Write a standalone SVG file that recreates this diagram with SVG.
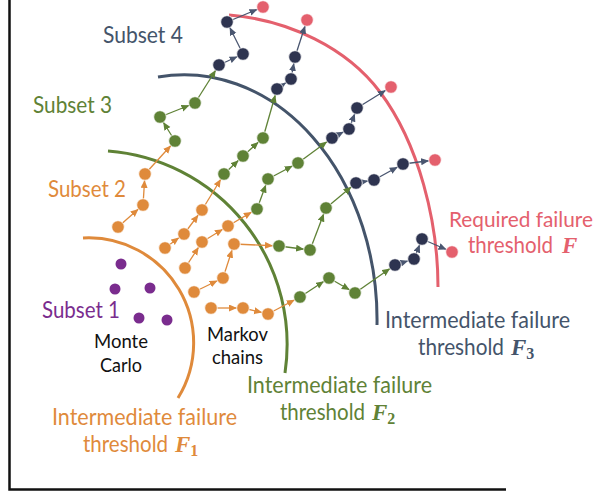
<svg xmlns="http://www.w3.org/2000/svg" width="598" height="492" viewBox="0 0 598 492">
<style>
.axis{stroke:#111;stroke-width:2.5;fill:none}
.arc{fill:none;stroke-width:3}
.lbl{font-family:Lato,"Liberation Sans",sans-serif;font-size:22.5px}
.sm{font-family:Lato,"Liberation Sans",sans-serif;font-size:19.5px;fill:#111;text-anchor:middle}
.mf{font-family:"Liberation Serif","DejaVu Serif",serif;font-weight:bold;font-style:italic;font-size:23px}
.sub{font-family:"Liberation Serif","DejaVu Serif",serif;font-weight:bold;font-size:16px}
.co{stroke:#DF8A3B;stroke-width:1.3;marker-end:url(#ao)}
.cg{stroke:#5F8236;stroke-width:1.3;marker-end:url(#ag)}
.cn{stroke:#4A5670;stroke-width:1.3;marker-end:url(#an)}
.o{fill:#DF8A3B;stroke:#fff;stroke-width:0.8}
.g{fill:#5F8236;stroke:#fff;stroke-width:0.8}
.n{fill:#2E3450;stroke:#fff;stroke-width:0.8}
.r{fill:#E4606D;stroke:#fff;stroke-width:0.8}
.p{fill:#7A2C8E}
</style>
<defs>
<marker id="ao" markerUnits="userSpaceOnUse" markerWidth="10" markerHeight="8" refX="14" refY="3.5" orient="auto"><path d="M0,0 L8,3.5 L0,7 Z" fill="#DF8A3B"/></marker>
<marker id="ag" markerUnits="userSpaceOnUse" markerWidth="10" markerHeight="8" refX="14" refY="3.5" orient="auto"><path d="M0,0 L8,3.5 L0,7 Z" fill="#5F8236"/></marker>
<marker id="an" markerUnits="userSpaceOnUse" markerWidth="10" markerHeight="8" refX="14" refY="3.5" orient="auto"><path d="M0,0 L8,3.5 L0,7 Z" fill="#4A5670"/></marker>
</defs>
<rect width="598" height="492" fill="#fff"/>
<g id="axes">
<path class="axis" d="M9.5,0 V489.5 H506"/>
</g>
<g id="thresholds">
<path id="arcF1" class="arc" stroke="#DF8A3B" d="M83,238 A105,105 0 0 1 178,398"/>
<path id="arcF2" class="arc" stroke="#5F8236" d="M108,151 A194,194 0 0 1 285,373"/>
<path id="arcF3" class="arc" stroke="#44546A" d="M158,77 A193,245 0 0 1 377,325"/>
<path id="arcF" class="arc" stroke="#E4606D" d="M229,15 C289,20 347,48 380,92 C419,144 438,222 438,287"/>
</g>
<g id="connectors">
<line class="co" x1="118" y1="227" x2="143" y2="205"/>
<line class="co" x1="143" y1="205" x2="145" y2="174"/>
<line class="co" x1="145" y1="174" x2="175" y2="141"/>
<line class="cg" x1="175" y1="141" x2="160" y2="117"/>
<line class="cg" x1="160" y1="117" x2="195" y2="103"/>
<line class="cg" x1="195" y1="103" x2="219" y2="65"/>
<line class="cn" x1="219" y1="65" x2="243" y2="54"/>
<line class="cn" x1="243" y1="54" x2="227" y2="22"/>
<line class="cn" x1="227" y1="22" x2="263" y2="7"/>

<line class="co" x1="165" y1="248" x2="184" y2="234"/>
<line class="co" x1="184" y1="234" x2="202" y2="210"/>
<line class="co" x1="202" y1="210" x2="224" y2="174"/>
<line class="cg" x1="224" y1="174" x2="243" y2="156"/>
<line class="cg" x1="243" y1="156" x2="263" y2="138"/>
<line class="cg" x1="263" y1="138" x2="277" y2="89"/>
<line class="cn" x1="277" y1="89" x2="291" y2="79"/>
<line class="cn" x1="291" y1="79" x2="295" y2="57"/>
<line class="cn" x1="295" y1="57" x2="307" y2="20"/>

<line class="co" x1="185" y1="268" x2="202" y2="242"/>
<line class="co" x1="202" y1="242" x2="228" y2="226"/>
<line class="co" x1="228" y1="226" x2="257" y2="209"/>
<line class="cg" x1="257" y1="209" x2="268" y2="179"/>
<line class="cg" x1="268" y1="179" x2="298" y2="163"/>
<line class="cg" x1="298" y1="163" x2="332" y2="138"/>
<line class="cn" x1="332" y1="138" x2="349" y2="129"/>
<line class="cn" x1="349" y1="129" x2="357" y2="108"/>
<line class="cn" x1="357" y1="108" x2="391" y2="87"/>

<line class="co" x1="194" y1="292" x2="223" y2="278"/>
<line class="co" x1="223" y1="278" x2="234" y2="244"/>
<line class="co" x1="234" y1="244" x2="279" y2="246"/>
<line class="cg" x1="279" y1="246" x2="310" y2="250"/>
<line class="cg" x1="310" y1="250" x2="326" y2="208"/>
<line class="cg" x1="326" y1="208" x2="356" y2="183"/>
<line class="cn" x1="356" y1="183" x2="374" y2="180"/>
<line class="cn" x1="374" y1="180" x2="403" y2="164"/>
<line class="cn" x1="403" y1="164" x2="435" y2="160"/>

<line class="co" x1="211" y1="308" x2="243" y2="308"/>
<line class="co" x1="243" y1="308" x2="268" y2="314"/>
<line class="co" x1="268" y1="314" x2="300" y2="297"/>
<line class="cg" x1="300" y1="297" x2="329" y2="278"/>
<line class="cg" x1="329" y1="278" x2="355" y2="293"/>
<line class="cg" x1="355" y1="293" x2="395" y2="265"/>
<line class="cn" x1="395" y1="265" x2="414" y2="259"/>
<line class="cn" x1="414" y1="259" x2="422" y2="239"/>
<line class="cn" x1="422" y1="239" x2="452" y2="252"/>
</g>
<g id="nodes">
<g id="mc1"><circle class="p" cx="121" cy="264" r="5.5"/></g>
<g id="mc2"><circle class="p" cx="115" cy="289" r="5.5"/></g>
<g id="mc3"><circle class="p" cx="150" cy="288" r="5.5"/></g>
<g id="mc4"><circle class="p" cx="139" cy="318" r="5.5"/></g>
<g id="mc5"><circle class="p" cx="167" cy="320" r="5.5"/></g>

<g id="c1o1"><circle class="o" cx="118" cy="227" r="6.3"/></g>
<g id="c1o2"><circle class="o" cx="143" cy="205" r="6.3"/></g>
<g id="c1o3"><circle class="o" cx="145" cy="174" r="6.3"/></g>
<g id="c1g1"><circle class="g" cx="175" cy="141" r="6.3"/></g>
<g id="c1g2"><circle class="g" cx="160" cy="117" r="6.3"/></g>
<g id="c1g3"><circle class="g" cx="195" cy="103" r="6.3"/></g>
<g id="c1n1"><circle class="n" cx="219" cy="65" r="6.3"/></g>
<g id="c1n2"><circle class="n" cx="243" cy="54" r="6.3"/></g>
<g id="c1n3"><circle class="n" cx="227" cy="22" r="6.3"/></g>
<g id="c1r"><circle class="r" cx="263" cy="7" r="6.3"/></g>

<g id="c2o1"><circle class="o" cx="165" cy="248" r="6.3"/></g>
<g id="c2o2"><circle class="o" cx="184" cy="234" r="6.3"/></g>
<g id="c2o3"><circle class="o" cx="202" cy="210" r="6.3"/></g>
<g id="c2g1"><circle class="g" cx="224" cy="174" r="6.3"/></g>
<g id="c2g2"><circle class="g" cx="243" cy="156" r="6.3"/></g>
<g id="c2g3"><circle class="g" cx="263" cy="138" r="6.3"/></g>
<g id="c2n1"><circle class="n" cx="277" cy="89" r="6.3"/></g>
<g id="c2n2"><circle class="n" cx="291" cy="79" r="6.3"/></g>
<g id="c2n3"><circle class="n" cx="295" cy="57" r="6.3"/></g>
<g id="c2r"><circle class="r" cx="307" cy="20" r="6.3"/></g>

<g id="c3o1"><circle class="o" cx="185" cy="268" r="6.3"/></g>
<g id="c3o2"><circle class="o" cx="202" cy="242" r="6.3"/></g>
<g id="c3o3"><circle class="o" cx="228" cy="226" r="6.3"/></g>
<g id="c3g1"><circle class="g" cx="257" cy="209" r="6.3"/></g>
<g id="c3g2"><circle class="g" cx="268" cy="179" r="6.3"/></g>
<g id="c3g3"><circle class="g" cx="298" cy="163" r="6.3"/></g>
<g id="c3n1"><circle class="n" cx="332" cy="138" r="6.3"/></g>
<g id="c3n2"><circle class="n" cx="349" cy="129" r="6.3"/></g>
<g id="c3n3"><circle class="n" cx="357" cy="108" r="6.3"/></g>
<g id="c3r"><circle class="r" cx="391" cy="87" r="6.3"/></g>

<g id="c4o1"><circle class="o" cx="194" cy="292" r="6.3"/></g>
<g id="c4o2"><circle class="o" cx="223" cy="278" r="6.3"/></g>
<g id="c4o3"><circle class="o" cx="234" cy="244" r="6.3"/></g>
<g id="c4g1"><circle class="g" cx="279" cy="246" r="6.3"/></g>
<g id="c4g2"><circle class="g" cx="310" cy="250" r="6.3"/></g>
<g id="c4g3"><circle class="g" cx="326" cy="208" r="6.3"/></g>
<g id="c4n1"><circle class="n" cx="356" cy="183" r="6.3"/></g>
<g id="c4n2"><circle class="n" cx="374" cy="180" r="6.3"/></g>
<g id="c4n3"><circle class="n" cx="403" cy="164" r="6.3"/></g>
<g id="c4r"><circle class="r" cx="435" cy="160" r="6.3"/></g>

<g id="c5o1"><circle class="o" cx="211" cy="308" r="6.3"/></g>
<g id="c5o2"><circle class="o" cx="243" cy="308" r="6.3"/></g>
<g id="c5o3"><circle class="o" cx="268" cy="314" r="6.3"/></g>
<g id="c5g1"><circle class="g" cx="300" cy="297" r="6.3"/></g>
<g id="c5g2"><circle class="g" cx="329" cy="278" r="6.3"/></g>
<g id="c5g3"><circle class="g" cx="355" cy="293" r="6.3"/></g>
<g id="c5n1"><circle class="n" cx="395" cy="265" r="6.3"/></g>
<g id="c5n2"><circle class="n" cx="414" cy="259" r="6.3"/></g>
<g id="c5n3"><circle class="n" cx="422" cy="239" r="6.3"/></g>
<g id="c5r"><circle class="r" cx="452" cy="252" r="6.3"/></g>
</g>
<g id="labels">
<text class="lbl" x="103" y="43" fill="#44546A" textLength="80" lengthAdjust="spacingAndGlyphs">Subset 4</text>
<text class="lbl" x="33" y="113" fill="#5F8236" textLength="79" lengthAdjust="spacingAndGlyphs">Subset 3</text>
<text class="lbl" x="48" y="197" fill="#DF8A3B" textLength="78" lengthAdjust="spacingAndGlyphs">Subset 2</text>
<text class="lbl" x="42" y="318" fill="#7A2C8E" textLength="78" lengthAdjust="spacingAndGlyphs">Subset 1</text>
<text class="sm" x="121" y="348" textLength="54" lengthAdjust="spacingAndGlyphs">Monte</text>
<text class="sm" x="121" y="372" textLength="42" lengthAdjust="spacingAndGlyphs">Carlo</text>
<text class="sm" x="237.5" y="341" textLength="61" lengthAdjust="spacingAndGlyphs">Markov</text>
<text class="sm" x="237.5" y="364" textLength="51" lengthAdjust="spacingAndGlyphs">chains</text>
<text class="lbl" x="52" y="425" fill="#DF8A3B" textLength="185" lengthAdjust="spacingAndGlyphs">Intermediate failure</text>
<text class="lbl" x="83" y="452" fill="#DF8A3B"><tspan textLength="85" lengthAdjust="spacingAndGlyphs">threshold</tspan><tspan class="mf" x="175">F</tspan><tspan class="sub" dy="4">1</tspan></text>
<text class="lbl" x="247" y="393" fill="#5F8236" textLength="185" lengthAdjust="spacingAndGlyphs">Intermediate failure</text>
<text class="lbl" x="280" y="420" fill="#5F8236"><tspan textLength="85" lengthAdjust="spacingAndGlyphs">threshold</tspan><tspan class="mf" x="372">F</tspan><tspan class="sub" dy="4">2</tspan></text>
<text class="lbl" x="385" y="328" fill="#44546A" textLength="185" lengthAdjust="spacingAndGlyphs">Intermediate failure</text>
<text class="lbl" x="418" y="355" fill="#44546A"><tspan textLength="86" lengthAdjust="spacingAndGlyphs">threshold</tspan><tspan class="mf" x="511">F</tspan><tspan class="sub" dy="4">3</tspan></text>
<text class="lbl" x="449" y="227" fill="#E4606D" style="font-size:21px" textLength="144" lengthAdjust="spacingAndGlyphs">Required failure</text>
<text class="lbl" x="468" y="253" fill="#E4606D"><tspan textLength="85" lengthAdjust="spacingAndGlyphs">threshold</tspan><tspan class="mf" x="562">F</tspan></text>
</g>
</svg>
